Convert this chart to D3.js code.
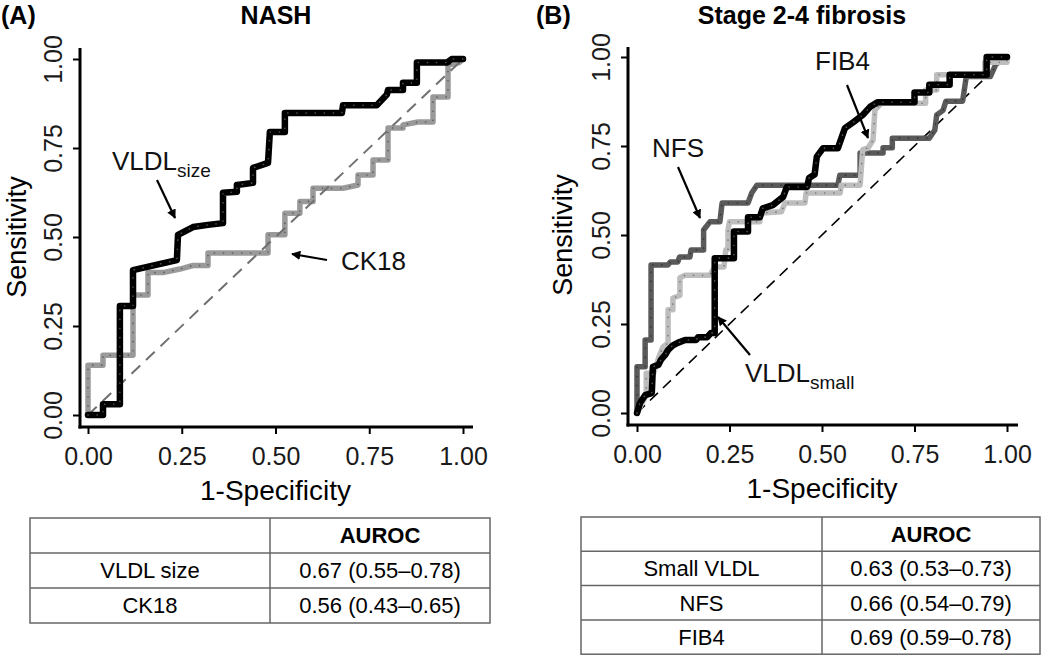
<!DOCTYPE html>
<html>
<head>
<meta charset="utf-8">
<script src="https://cdn.jsdelivr.net/npm/d3@7"></script>
<style>
  html, body { margin: 0; padding: 0; background: #fff; }
  svg { display: block; font-family: "Liberation Sans", Arial, sans-serif; }
</style>
</head>
<body>
<svg id="chart" width="1050" height="656"></svg>
<script>
// ---------------- DATA ----------------
const tickValues = [0, 0.25, 0.5, 0.75, 1];

// Panel A: NASH
const vldlSizeFpr = [0,0.04,0.04,0.085,0.085,0.12,0.12,0.237,0.24,0.28,0.32,0.36,0.36,0.397,0.397,0.44,0.44,0.48,0.485,0.525,0.525,0.677,0.68,0.77,0.797,0.80,0.84,0.84,0.877,0.877,0.957,0.97,1];
const vldlSizeTpr = [0,0,0.03,0.03,0.306,0.306,0.407,0.435,0.506,0.528,0.534,0.539,0.624,0.627,0.646,0.652,0.694,0.708,0.795,0.795,0.848,0.848,0.87,0.87,0.9,0.913,0.913,0.933,0.933,0.99,0.99,1,1];

const ck18Fpr = [0,0,0.04,0.04,0.12,0.12,0.16,0.16,0.20,0.245,0.28,0.32,0.32,0.48,0.48,0.525,0.525,0.565,0.565,0.60,0.60,0.68,0.72,0.72,0.76,0.76,0.80,0.80,0.84,0.84,0.88,0.92,0.92,0.96,0.96,0.99,1];
const ck18Tpr = [0,0.14,0.14,0.168,0.168,0.337,0.337,0.40,0.40,0.41,0.42,0.42,0.455,0.455,0.506,0.506,0.567,0.567,0.60,0.60,0.637,0.637,0.646,0.674,0.674,0.716,0.716,0.806,0.806,0.815,0.823,0.823,0.893,0.893,0.983,0.99,1];

// Panel B: Stage 2-4 fibrosis
const vldlSmallFpr = [0,0.008,0.022,0.04,0.043,0.058,0.065,0.076,0.084,0.097,0.11,0.13,0.16,0.165,0.19,0.2,0.21,0.21,0.262,0.262,0.30,0.30,0.332,0.34,0.367,0.395,0.405,0.46,0.465,0.48,0.486,0.503,0.543,0.562,0.585,0.61,0.63,0.65,0.75,0.75,0.79,0.79,0.845,0.845,0.945,0.945,1];
const vldlSmallTpr = [0,0.028,0.05,0.056,0.13,0.135,0.15,0.163,0.177,0.19,0.197,0.205,0.205,0.213,0.213,0.225,0.225,0.435,0.435,0.51,0.51,0.55,0.55,0.575,0.584,0.607,0.635,0.635,0.66,0.67,0.72,0.744,0.744,0.80,0.817,0.837,0.86,0.873,0.873,0.90,0.90,0.922,0.922,0.95,0.95,1,1];

const nfsFpr = [0,0,0.022,0.022,0.038,0.038,0.084,0.09,0.11,0.115,0.143,0.146,0.18,0.18,0.197,0.224,0.23,0.30,0.31,0.324,0.543,0.548,0.603,0.603,0.665,0.665,0.69,0.69,0.79,0.805,0.81,0.827,0.835,0.88,0.89,0.955,0.97,1];
const nfsTpr = [0,0.13,0.13,0.205,0.205,0.416,0.416,0.424,0.424,0.438,0.438,0.458,0.458,0.514,0.537,0.537,0.59,0.59,0.618,0.64,0.64,0.668,0.668,0.73,0.73,0.745,0.745,0.772,0.772,0.795,0.837,0.85,0.876,0.876,0.945,0.945,0.98,1];

const fib4Fpr = [0,0.015,0.025,0.025,0.045,0.06,0.07,0.084,0.084,0.097,0.097,0.116,0.116,0.13,0.197,0.21,0.235,0.24,0.246,0.246,0.25,0.332,0.335,0.39,0.40,0.454,0.457,0.549,0.552,0.603,0.61,0.625,0.638,0.643,0.66,0.78,0.78,0.81,0.81,0.94,0.94,1,1];
const fib4Tpr = [0,0.03,0.05,0.112,0.112,0.16,0.185,0.197,0.29,0.29,0.323,0.33,0.38,0.387,0.387,0.41,0.41,0.458,0.46,0.514,0.537,0.537,0.562,0.565,0.59,0.59,0.618,0.618,0.64,0.64,0.74,0.745,0.767,0.851,0.87,0.87,0.907,0.907,0.95,0.95,0.985,0.985,1];

// Tables
const tableAHeader = ["", "AUROC"];
const tableALabels = ["VLDL size", "CK18"];
const tableAValues = ["0.67 (0.55\u20130.78)", "0.56 (0.43\u20130.65)"];
const tableBHeader = ["", "AUROC"];
const tableBLabels = ["Small VLDL", "NFS", "FIB4"];
const tableBValues = ["0.63 (0.53\u20130.73)", "0.66 (0.54\u20130.79)", "0.69 (0.59\u20130.78)"];

// ---------------- DRAW ----------------
const svg = d3.select("#chart");
const FONT = "'Liberation Sans', Arial, sans-serif";

const defs = svg.append("defs");
defs.append("marker")
  .attr("id", "arrow")
  .attr("viewBox", "0 0 10 10")
  .attr("refX", 9).attr("refY", 5)
  .attr("markerWidth", 4.2).attr("markerHeight", 4.2)
  .attr("markerUnits", "strokeWidth")
  .attr("orient", "auto")
  .append("path").attr("d", "M0,0 L10,5 L0,10 Z").attr("fill", "#000");

function zip(xs, ys) { return xs.map((x, i) => [x, ys[i]]); }

function panel(cfg) {
  const g = svg.append("g");
  const x = d3.scaleLinear().domain([0, 1]).range(cfg.xRange);
  const y = d3.scaleLinear().domain([0, 1]).range(cfg.yRange);

  // axes lines
  g.append("line").attr("x1", cfg.axisX).attr("x2", cfg.axisX)
    .attr("y1", cfg.axisTop).attr("y2", cfg.axisY + 1.5)
    .attr("stroke", "#000").attr("stroke-width", 3);
  g.append("line").attr("x1", cfg.axisX - 1.5).attr("x2", cfg.axisRight)
    .attr("y1", cfg.axisY).attr("y2", cfg.axisY)
    .attr("stroke", "#000").attr("stroke-width", 3);

  const yAxis = g.append("g").attr("transform", `translate(${cfg.axisX},0)`)
    .call(d3.axisLeft(y).tickValues(tickValues).tickFormat(d3.format(".2f")).tickSize(7).tickSizeOuter(0));
  yAxis.select(".domain").remove();
  yAxis.selectAll(".tick line").attr("stroke", "#000").attr("stroke-width", 2);
  yAxis.selectAll(".tick text")
    .attr("transform", "rotate(-90)")
    .attr("x", 0).attr("y", -18).attr("dy", 0)
    .attr("text-anchor", "middle")
    .attr("fill", "#1a1a1a")
    .style("font-size", "25px").style("font-family", FONT);

  const xAxis = g.append("g").attr("transform", `translate(0,${cfg.axisY})`)
    .call(d3.axisBottom(x).tickValues(tickValues).tickFormat(d3.format(".2f")).tickSize(7).tickSizeOuter(0));
  xAxis.select(".domain").remove();
  xAxis.selectAll(".tick line").attr("stroke", "#000").attr("stroke-width", 2);
  xAxis.selectAll(".tick text")
    .attr("y", 38).attr("dy", 0)
    .attr("fill", "#1a1a1a")
    .style("font-size", "25px").style("font-family", FONT);

  // axis titles
  g.append("text")
    .attr("transform", `translate(${cfg.yTitleX},${(cfg.yRange[0] + cfg.yRange[1]) / 2}) rotate(-90)`)
    .attr("text-anchor", "middle").style("font-size", "27px").style("font-family", FONT)
    .text("Sensitivity");
  g.append("text")
    .attr("x", (cfg.xRange[0] + cfg.xRange[1]) / 2).attr("y", cfg.xTitleY)
    .attr("text-anchor", "middle").style("font-size", "28px").style("font-family", FONT)
    .text("1-Specificity");

  // titles
  g.append("text").attr("x", cfg.tagX).attr("y", 24)
    .style("font-size", "25px").style("font-weight", "bold").style("font-family", FONT)
    .text(cfg.tag);
  g.append("text").attr("x", cfg.titleX).attr("y", 24)
    .attr("text-anchor", "middle")
    .style("font-size", "25px").style("font-weight", "bold").style("font-family", FONT)
    .text(cfg.title);

  const line = d3.line().x(d => x(d[0])).y(d => y(d[1]));

  function drawCurve(s) {
    const pts = zip(s.fpr, s.tpr);
    g.append("path").attr("d", line(pts)).attr("fill", "none")
      .attr("stroke", s.color).attr("stroke-width", s.width)
      .attr("stroke-linejoin", "round").attr("stroke-linecap", "round");
    g.append("path").attr("d", line(pts)).attr("fill", "none")
      .attr("stroke", s.dot).attr("stroke-width", 1.6)
      .attr("stroke-dasharray", "0.1,9").attr("stroke-linecap", "round");
  }

  cfg.series.forEach(s => {
    if (s.diag) {
      g.append("path").attr("d", line([[0, 0], [1, 1]])).attr("fill", "none")
        .attr("stroke", s.color).attr("stroke-width", s.width)
        .attr("stroke-dasharray", s.dash);
    } else drawCurve(s);
  });

  // annotations
  cfg.notes.forEach(n => {
    const t = g.append("text").attr("x", n.x).attr("y", n.y)
      .style("font-size", "26px").style("font-family", FONT).attr("fill", "#111");
    t.append("tspan").text(n.main);
    if (n.sub) t.append("tspan").attr("dy", 7).style("font-size", "19px").text(n.sub);
    g.append("line").attr("x1", n.a[0]).attr("y1", n.a[1]).attr("x2", n.a[2]).attr("y2", n.a[3])
      .attr("stroke", "#000").attr("stroke-width", 2.2).attr("marker-end", "url(#arrow)");
  });

  // table
  const tb = cfg.table;
  const rows = [[tb.header[0], tb.header[1], true]].concat(tb.labels.map((l, i) => [l, tb.values[i], false]));
  const tg = g.append("g");
  const rowY = i => tb.top + i * tb.rowH;
  const bottom = rowY(rows.length);
  tg.append("rect").attr("x", tb.left).attr("y", tb.top)
    .attr("width", tb.right - tb.left).attr("height", bottom - tb.top)
    .attr("fill", "none").attr("stroke", "#666").attr("stroke-width", 1.5);
  tg.append("line").attr("x1", tb.mid).attr("x2", tb.mid).attr("y1", tb.top).attr("y2", bottom)
    .attr("stroke", "#666").attr("stroke-width", 1.5);
  rows.forEach((r, i) => {
    if (i > 0) tg.append("line").attr("x1", tb.left).attr("x2", tb.right)
      .attr("y1", rowY(i)).attr("y2", rowY(i)).attr("stroke", "#666").attr("stroke-width", 1.5);
    const cy = rowY(i) + tb.rowH / 2;
    tg.append("text").attr("x", (tb.left + tb.mid) / 2).attr("y", cy).attr("dy", "0.36em")
      .attr("text-anchor", "middle").style("font-size", "22px").style("font-family", FONT)
      .style("font-weight", r[2] ? "bold" : "normal").text(r[0]);
    tg.append("text").attr("x", (tb.mid + tb.right) / 2).attr("y", cy).attr("dy", "0.36em")
      .attr("text-anchor", "middle").style("font-size", "22px").style("font-family", FONT)
      .style("font-weight", r[2] ? "bold" : "normal").text(r[1]);
  });
}

panel({
  xRange: [88, 463], yRange: [415, 59],
  axisX: 80, axisY: 427, axisTop: 48, axisRight: 473,
  yTitleX: 26, xTitleY: 500,
  tag: "(A)", tagX: 1, title: "NASH", titleX: 276,
  series: [
    { fpr: ck18Fpr, tpr: ck18Tpr, color: "#9a9a9a", dot: "#5a5a5a", width: 5.5 },
    { diag: true, color: "#707070", width: 2, dash: "12,8" },
    { fpr: vldlSizeFpr, tpr: vldlSizeTpr, color: "#000", dot: "#555", width: 6.5 }
  ],
  notes: [
    { main: "VLDL", sub: "size", x: 112, y: 170, a: [157, 180, 175, 218] },
    { main: "CK18", x: 341, y: 270, a: [327, 260, 292, 254] }
  ],
  table: { header: tableAHeader, labels: tableALabels, values: tableAValues,
           left: 30, mid: 270, right: 490, top: 518, rowH: 35 }
});

panel({
  xRange: [637, 1007], yRange: [413, 57],
  axisX: 628, axisY: 425, axisTop: 47, axisRight: 1018,
  yTitleX: 572, xTitleY: 498,
  tag: "(B)", tagX: 536, title: "Stage 2-4 fibrosis", titleX: 802,
  series: [
    { diag: true, color: "#000", width: 1.6, dash: "11,7" },
    { fpr: nfsFpr, tpr: nfsTpr, color: "#5a5a5a", dot: "#333", width: 5.5 },
    { fpr: fib4Fpr, tpr: fib4Tpr, color: "#bdbdbd", dot: "#777", width: 5.5 },
    { fpr: vldlSmallFpr, tpr: vldlSmallTpr, color: "#000", dot: "#555", width: 6.5 }
  ],
  notes: [
    { main: "NFS", x: 652, y: 157, a: [678, 167, 700, 218] },
    { main: "FIB4", x: 815, y: 70, a: [847, 85, 868, 138] },
    { main: "VLDL", sub: "small", x: 745, y: 382, a: [750, 355, 718, 317] }
  ],
  table: { header: tableBHeader, labels: tableBLabels, values: tableBValues,
           left: 581, mid: 822, right: 1040, top: 517, rowH: 34.3 }
});
</script>
</body>
</html>
